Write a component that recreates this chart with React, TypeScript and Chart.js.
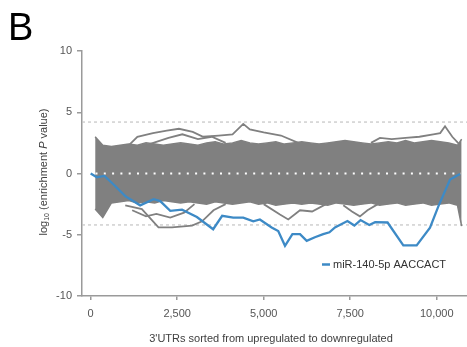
import React, { useEffect, useRef } from "react";
import { Chart, registerables } from "chart.js";

Chart.register(...registerables);

// ---------- data ----------
const xTickValues = [0, 2500, 5000, 7500, 10000];
const yTickValues = [-10, -5, 0, 5, 10];
const thresholdY = [4.2, -4.2];

const xTitle = "3'UTRs sorted from upregulated to downregulated";
const legendLabel = "miR-140-5p AACCACT";

// dense band of background motifs (envelope)
const bandX = [130, 350, 600, 850, 1100, 1350, 1600, 1850, 2100, 2350, 2600, 2850, 3100, 3350, 3600, 3850, 4100, 4350, 4600, 4850, 5100, 5350, 5600, 5850, 6100, 6350, 6600, 6850, 7100, 7350, 7600, 7850, 8100, 8350, 8600, 8850, 9100, 9350, 9600, 9850, 10100, 10350, 10600, 10720];
const bandUpper = [3.0, 2.3, 2.2, 2.3, 2.4, 2.3, 2.5, 2.4, 2.3, 2.4, 2.5, 2.4, 2.3, 2.5, 2.6, 2.4, 2.5, 2.7, 2.5, 2.4, 2.5, 2.6, 2.4, 2.5, 2.6, 2.5, 2.4, 2.5, 2.6, 2.7, 2.6, 2.5, 2.4, 2.5, 2.6, 2.5, 2.7, 2.5, 2.6, 2.7, 2.6, 2.5, 2.3, 2.8];
const bandLower = [-2.9, -3.6, -2.4, -2.3, -2.2, -2.4, -2.3, -2.4, -2.2, -2.3, -2.4, -2.3, -2.4, -2.5, -2.3, -2.4, -2.5, -2.4, -2.3, -2.5, -2.4, -2.6, -2.5, -2.4, -2.5, -2.4, -2.5, -2.6, -2.4, -2.5, -2.6, -2.5, -2.4, -2.6, -2.5, -2.4, -2.6, -2.5, -2.4, -2.6, -2.5, -2.4, -2.6, -4.3];

// individual outlier motifs
const outTopAX = [1100, 1350, 1800, 2200, 2550, 2950, 3250, 3700, 4100, 4410, 4600, 5000, 5500, 6000];
const outTopAY = [2.3, 3.0, 3.3, 3.5, 3.65, 3.4, 3.0, 3.1, 3.2, 4.05, 3.6, 3.35, 3.1, 2.5];
const outTopBX = [1700, 2250, 2650, 3100, 3500, 3900];
const outTopBY = [2.4, 2.9, 3.2, 2.8, 3.0, 2.5];
const outTopCX = [8100, 8360, 8700, 9100, 9500, 9900, 10100, 10240, 10450, 10650];
const outTopCY = [2.5, 2.9, 2.8, 2.9, 3.0, 3.2, 3.3, 3.85, 3.0, 2.4];
const outBotAX = [1000, 1480, 1960, 2350, 2930, 3220, 3550, 3900];
const outBotAY = [-2.6, -2.9, -4.4, -4.4, -4.25, -3.9, -3.0, -2.5];
const outBotBX = [1200, 1600, 1900, 2300, 2700, 3000];
const outBotBY = [-3.0, -3.5, -3.3, -3.6, -3.2, -2.5];
const outBotCX = [5000, 5470, 5710, 6050, 6400, 6800];
const outBotCY = [-2.5, -3.35, -3.75, -3.0, -3.1, -2.5];
const outBotDX = [7300, 7550, 7780, 8000, 8300];
const outBotDY = [-2.6, -3.1, -3.5, -3.0, -2.5];

// highlighted motif
const mirX = [0, 180, 400, 700, 1000, 1430, 1820, 2010, 2300, 2640, 3070, 3540, 3800, 4120, 4410, 4700, 4890, 5230, 5420, 5616, 5830, 6050, 6243, 6480, 6720, 6900, 7060, 7420, 7620, 7800, 8050, 8220, 8580, 9035, 9420, 9806, 10050, 10385, 10674];
const mirY = [0, -0.3, -0.2, -1.0, -1.85, -2.6, -2.1, -2.25, -3.05, -2.95, -3.55, -4.55, -3.45, -3.6, -3.6, -3.9, -3.75, -4.4, -4.7, -5.9, -4.95, -4.95, -5.5, -5.2, -4.95, -4.8, -4.4, -3.88, -4.25, -3.8, -4.2, -3.97, -4.0, -5.87, -5.87, -4.43, -2.66, -0.49, -0.05];

const X_MIN = -250;
const X_MAX = 10875;

// ---------- helpers ----------
const zip = (xs: number[], ys: number[]) => xs.map((x, i) => ({ x, y: ys[i] }));

const GREY = "#808080";
const BLUE = "#3d8ac6";
const FONT = '"Liberation Sans", Arial, sans-serif';

const textPlugin = {
  id: "textPlugin",
  afterDraw(chart: any) {
    const ctx = chart.ctx as CanvasRenderingContext2D;
    ctx.save();
    // panel letter
    ctx.fillStyle = "#000";
    ctx.font = `38px ${FONT}`;
    ctx.textAlign = "left";
    ctx.textBaseline = "alphabetic";
    ctx.fillText("B", 8, 40);

    // x title
    ctx.font = `11px ${FONT}`;
    ctx.fillStyle = "#404040";
    ctx.textAlign = "center";
    ctx.textBaseline = "middle";
    ctx.fillText(xTitle, 271, 339);

    // y title (rotated, with subscript and italic P)
    const pieces = [
      { t: "log", f: `11px ${FONT}`, dy: 0 },
      { t: "10", f: `7px ${FONT}`, dy: 2 },
      { t: " (enrichment ", f: `11px ${FONT}`, dy: 0 },
      { t: "P", f: `italic 11px ${FONT}`, dy: 0 },
      { t: " value)", f: `11px ${FONT}`, dy: 0 },
    ];
    let total = 0;
    for (const p of pieces) {
      ctx.font = p.f;
      total += ctx.measureText(p.t).width;
    }
    ctx.translate(43, 172);
    ctx.rotate(-Math.PI / 2);
    ctx.textAlign = "left";
    ctx.textBaseline = "alphabetic";
    let x = -total / 2;
    for (const p of pieces) {
      ctx.font = p.f;
      ctx.fillText(p.t, x, 4 + p.dy);
      x += ctx.measureText(p.t).width;
    }
    ctx.restore();

    // legend
    ctx.save();
    ctx.strokeStyle = BLUE;
    ctx.lineWidth = 2.5;
    ctx.beginPath();
    ctx.moveTo(322, 264.5);
    ctx.lineTo(330, 264.5);
    ctx.stroke();
    ctx.font = `11px ${FONT}`;
    ctx.fillStyle = "#333";
    ctx.textAlign = "left";
    ctx.textBaseline = "middle";
    ctx.fillText(legendLabel, 333, 265);
    ctx.restore();
  },
};

export default function App() {
  const ref = useRef<HTMLCanvasElement | null>(null);

  useEffect(() => {
    if (!ref.current) return;
    const greyLine = (xs: number[], ys: number[]) => ({
      data: zip(xs, ys),
      borderColor: GREY,
      borderWidth: 1.8,
      pointRadius: 0,
      fill: false,
      order: 5,
      tension: 0,
    });

    const chart = new Chart(ref.current, {
      type: "line",
      data: {
        datasets: [
          {
            data: zip(mirX, mirY),
            borderColor: BLUE,
            borderWidth: 2.3,
            pointRadius: 0,
            fill: false,
            order: 1,
          },
          {
            data: [
              { x: 140, y: 0 },
              { x: 10700, y: 0 },
            ],
            borderColor: "#ffffff",
            borderWidth: 2,
            borderDash: [2, 6.3],
            pointRadius: 0,
            fill: false,
            order: 2,
          },
          greyLine(outTopAX, outTopAY),
          greyLine(outTopBX, outTopBY),
          greyLine(outTopCX, outTopCY),
          greyLine(outBotAX, outBotAY),
          greyLine(outBotBX, outBotBY),
          greyLine(outBotCX, outBotCY),
          greyLine(outBotDX, outBotDY),
          {
            data: zip(bandX, bandUpper),
            borderColor: GREY,
            borderWidth: 1.5,
            backgroundColor: GREY,
            pointRadius: 0,
            fill: "+1",
            order: 6,
          },
          {
            data: zip(bandX, bandLower),
            borderColor: GREY,
            borderWidth: 1.5,
            pointRadius: 0,
            fill: false,
            order: 7,
          },
          ...thresholdY.map((v) => ({
            data: [
              { x: X_MIN, y: v },
              { x: X_MAX, y: v },
            ],
            borderColor: "#c4c4c4",
            borderWidth: 1.2,
            borderDash: [3, 3],
            pointRadius: 0,
            fill: false,
            order: 9,
          })),
        ] as any,
      },
      options: {
        animation: false,
        responsive: false,
        maintainAspectRatio: false,
        layout: { padding: { left: 0, right: 0, top: 51, bottom: 0 } },
        plugins: {
          legend: { display: false },
          tooltip: { enabled: false },
        },
        scales: {
          x: {
            type: "linear",
            min: X_MIN,
            max: X_MAX,
            afterBuildTicks: (scale: any) => {
              scale.ticks = xTickValues.map((v) => ({ value: v }));
            },
            afterFit: (scale: any) => {
              scale.height = 51;
            },
            ticks: {
              font: { family: FONT, size: 11 },
              color: "#555",
              padding: 7,
              maxRotation: 0,
              callback: (v: any) => Number(v).toLocaleString("en-US"),
            },
            grid: {
              display: true,
              drawOnChartArea: false,
              drawTicks: true,
              tickLength: 4,
              color: "#9a9a9a",
              lineWidth: 1.5,
            },
            border: { display: true, color: "#9a9a9a", width: 1.5 },
          },
          y: {
            type: "linear",
            min: -10,
            max: 10,
            afterBuildTicks: (scale: any) => {
              scale.ticks = yTickValues.map((v) => ({ value: v }));
            },
            afterFit: (scale: any) => {
              scale.width = 82;
            },
            ticks: {
              font: { family: FONT, size: 11 },
              color: "#555",
              padding: 5,
            },
            grid: {
              display: true,
              drawOnChartArea: false,
              drawTicks: true,
              tickLength: 5,
              color: "#9a9a9a",
              lineWidth: 1.5,
            },
            border: { display: true, color: "#9a9a9a", width: 1.5 },
          },
        },
      },
      plugins: [textPlugin],
    });
    return () => chart.destroy();
  }, []);

  return (
    <div style={{ position: "fixed", left: 0, top: 0, width: 467, height: 347, background: "#fff" }}>
      <canvas ref={ref} width={467} height={347} style={{ width: 467, height: 347 }} />
    </div>
  );
}
